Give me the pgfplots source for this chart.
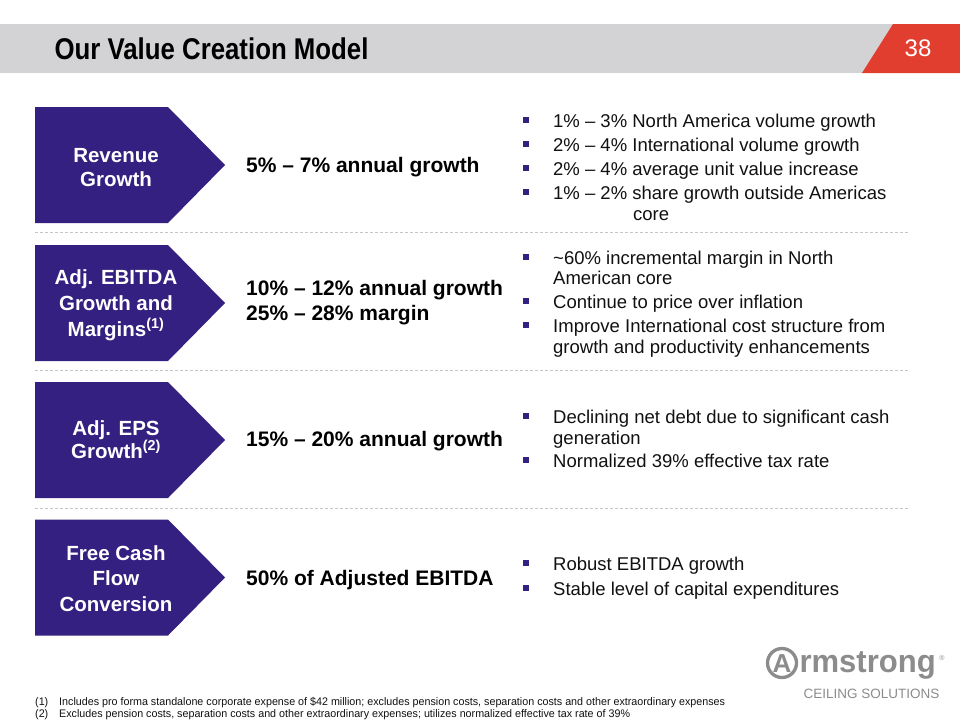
\documentclass[border=0pt]{standalone}
\usepackage{pgfplots}
\pgfplotsset{compat=1.18}
\usepackage{fontspec}
\setmainfont{Liberation Sans}
\newfontfamily\titlefont[FakeStretch=0.86]{Liberation Sans}
\newfontfamily\notefont[FakeStretch=0.975]{Liberation Sans}
\newfontfamily\logofont[FakeStretch=0.97]{Liberation Sans}
\definecolor{purp}{HTML}{332080}
\definecolor{band}{HTML}{D3D3D5}
\definecolor{redtab}{HTML}{E23E30}
\definecolor{sep}{HTML}{C4C4C4}
\definecolor{logo}{HTML}{8C8C8C}
\definecolor{txt}{HTML}{111111}
\newcommand{\fs}[1]{\fontsize{#1}{#1}\selectfont}
\begin{document}
\begin{tikzpicture}
\begin{axis}[width=960pt, height=720pt, scale only axis,
  xmin=0, xmax=960, ymin=0, ymax=720, y dir=reverse,
  hide axis, clip=false,
  every node/.append style={inner sep=0pt, outer sep=0pt}]
% background
\addplot[fill=white, draw=none] coordinates {(0,0) (960,0) (960,720) (0,720)} -- cycle;
% header band
\addplot[fill=band, draw=none] coordinates {(0,24) (960,24) (960,73) (0,73)} -- cycle;
\addplot[fill=redtab, draw=none] coordinates {(893,24) (960,24) (960,73) (862,73)} -- cycle;
% arrow boxes
\addplot[fill=purp, draw=none] coordinates {(35,107) (168,107) (225,165) (168,223) (35,223)} -- cycle;
\addplot[fill=purp, draw=none] coordinates {(35,245) (168,245) (225,303) (168,361) (35,361)} -- cycle;
\addplot[fill=purp, draw=none] coordinates {(35,382) (168,382) (225,440) (168,498) (35,498)} -- cycle;
\addplot[fill=purp, draw=none] coordinates {(35,519.5) (168,519.5) (225,577.5) (168,635.5) (35,635.5)} -- cycle;
% separators
\addplot[sep, line width=1pt, dash pattern=on 3pt off 2pt] coordinates {(35,232) (908,232)};
\addplot[sep, line width=1pt, dash pattern=on 3pt off 2pt] coordinates {(35,370) (908,370)};
\addplot[sep, line width=1pt, dash pattern=on 3pt off 2pt] coordinates {(35,508) (908,508)};
% bullets
\addplot[only marks, mark=square*, mark size=2.5pt, color=purp] coordinates {
 (526,120) (526,144) (526,168) (526,192)
 (526,257) (526,301) (526,325)
 (526,416) (526,460)
 (526,563) (526,588)};
% logo circle
\draw[logo, line width=3.3pt] (axis cs:782,663) circle[radius=14.5pt];

% title
\node[anchor=base west, font=\titlefont\bfseries\fs{30}] at (axis cs:51,59) {Our Value Creation Model};
\node[anchor=base, text=white, font=\fs{24}] at (axis cs:918,56.6) {38};

% box labels
\begin{scope}[every node/.style={anchor=base, text=white, font=\bfseries\fs{20.5}, inner sep=0pt}]
\node at (axis cs:116,162.3) {Revenue};
\node at (axis cs:116,186.3) {Growth};
\node at (axis cs:116,284) {Adj. EBITDA};
\node at (axis cs:116,310) {Growth and};
\node at (axis cs:116,336) {Margins\textsuperscript{(1)}};
\node at (axis cs:116,435) {Adj. EPS};
\node at (axis cs:116,458) {Growth\textsuperscript{(2)}};
\node at (axis cs:116,560) {Free Cash};
\node at (axis cs:116,585) {Flow};
\node at (axis cs:116,611) {Conversion};
\end{scope}

% middle texts
\begin{scope}[every node/.style={anchor=base west, text=black, font=\bfseries\fs{21}, inner sep=0pt}]
\node at (axis cs:246,172.5) {5\% – 7\% annual growth};
\node at (axis cs:246,295.5) {10\% – 12\% annual growth};
\node at (axis cs:246,320.5) {25\% – 28\% margin};
\node at (axis cs:246,446.5) {15\% – 20\% annual growth};
\node at (axis cs:246,585.5) {50\% of Adjusted EBITDA};
\end{scope}

% bullet texts
\begin{scope}[every node/.style={anchor=base west, text=txt, font=\fs{18.5}, inner sep=0pt}]
\node at (axis cs:553,127.6) {1\% – 3\% North America volume growth};
\node at (axis cs:553,151.6) {2\% – 4\% International volume growth};
\node at (axis cs:553,175.6) {2\% – 4\% average unit value increase};
\node at (axis cs:553,199.6) {1\% – 2\% share growth outside Americas};
\node at (axis cs:633,220.6) {core};
\node at (axis cs:553,264.6) {\textasciitilde60\% incremental margin in North};
\node at (axis cs:553,284.6) {American core};
\node at (axis cs:553,308.6) {Continue to price over inflation};
\node at (axis cs:553,332.6) {Improve International cost structure from};
\node at (axis cs:553,353.6) {growth and productivity enhancements};
\node at (axis cs:553,423.6) {Declining net debt due to significant cash};
\node at (axis cs:553,444.6) {generation};
\node at (axis cs:553,467.6) {Normalized 39\% effective tax rate};
\node at (axis cs:553,570.6) {Robust EBITDA growth};
\node at (axis cs:553,595.6) {Stable level of capital expenditures};
\end{scope}

% footnotes
\begin{scope}[every node/.style={anchor=base west, text=txt, font=\notefont\fs{11}, inner sep=0pt}]
\node at (axis cs:35,705) {(1)};
\node at (axis cs:59,705) {Includes pro forma standalone corporate expense of \$42 million; excludes pension costs, separation costs and other extraordinary expenses};
\node at (axis cs:35,717) {(2)};
\node at (axis cs:59,717) {Excludes pension costs, separation costs and other extraordinary expenses; utilizes normalized effective tax rate of 39\%};
\end{scope}

% logo text
\node[anchor=center, text=logo, font=\bfseries\fs{26}] at (axis cs:782,664) {A};
\node[anchor=base west, text=logo, font=\logofont\bfseries\fs{32}] at (axis cs:796,672) {rmstrong};
\node[anchor=center, text=logo, font=\fs{7}] at (axis cs:942,658) {\textregistered};
\node[anchor=base west, text=logo, font=\fs{13.5}] at (axis cs:800,698) {CEILING SOLUTIONS};
\end{axis}
\end{tikzpicture}
\end{document}
